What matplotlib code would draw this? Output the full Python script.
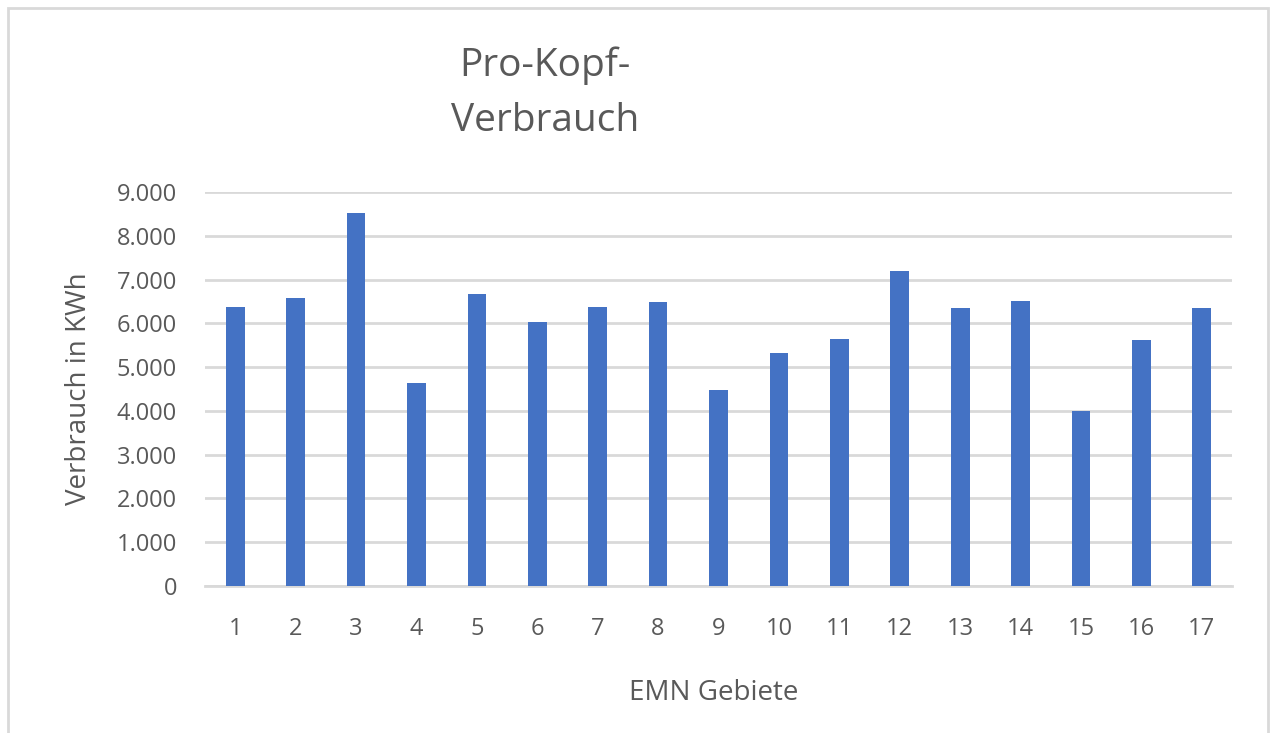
import matplotlib.pyplot as plt
from matplotlib.ticker import FuncFormatter
from matplotlib.patches import Rectangle

gebiete = [str(i) for i in range(1, 18)]
verbrauch = [6370, 6590, 8520, 4630, 6670, 6030, 6370, 6480, 4480,
             5330, 5650, 7190, 6340, 6520, 3990, 5620, 6340]
yticks = list(range(0, 9001, 1000))

plt.rcParams['font.family'] = ['Open Sans', 'DejaVu Sans']
grau = '#595959'

fig = plt.figure(figsize=(12.75, 7.33), dpi=100)
ax = fig.add_axes([0.1608, 0.2005, 0.8055, 0.5375])

x = list(range(1, len(gebiete) + 1))
ax.bar(x, verbrauch, width=0.31, color='#4472C4', zorder=3)

ax.set_xlim(0.5, len(gebiete) + 0.5)
ax.set_ylim(0, 9000)
ax.set_yticks(yticks)
ax.yaxis.set_major_formatter(FuncFormatter(lambda v, p: f'{int(v):,}'.replace(',', '.')))
ax.set_xticks(x)
ax.set_xticklabels(gebiete)
ax.grid(axis='y', color='#d9d9d9', linewidth=2, zorder=0)
for s in ['top', 'right', 'left']:
    ax.spines[s].set_visible(False)
ax.spines['bottom'].set_color('#d9d9d9')
ax.spines['bottom'].set_linewidth(2)
ax.tick_params(axis='both', length=0, labelsize=17, labelcolor=grau)
ax.tick_params(axis='x', pad=22)
ax.tick_params(axis='y', pad=20)

ax.set_ylabel('Verbrauch in KWh', fontsize=20, color=grau)
ax.yaxis.set_label_coords(-0.109, 0.5)
ax.set_xlabel('EMN Gebiete', fontsize=20, color=grau)
ax.xaxis.set_label_coords(0.495, -0.235)

fig.text(545 / 1275, 1 - 93 / 733, 'Pro-Kopf-\nVerbrauch', fontsize=28, color=grau,
         ha='center', va='center', linespacing=1.6)

fig.patches.append(Rectangle((8 / 1275, -0.01), 1260 / 1275, 1 - 8 / 733 + 0.01,
                             transform=fig.transFigure, fill=False,
                             edgecolor='#d9d9d9', linewidth=2))

fig.savefig('out.png', dpi=100)
